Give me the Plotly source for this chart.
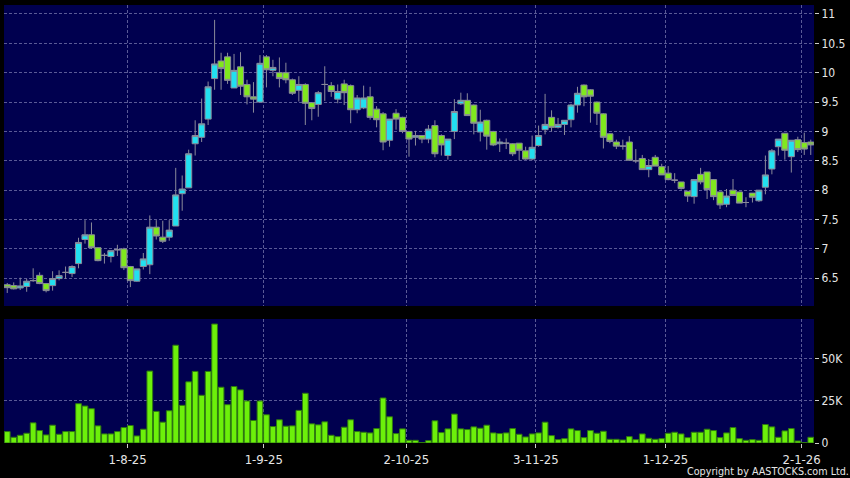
import plotly.graph_objects as go

# ---- data ----
open_ = [6.39, 6.375, 6.335, 6.36, 6.46, 6.55, 6.41, 6.375, 6.495, 6.60,
         6.58, 6.75, 7.16, 7.24, 7.02, 6.89, 6.87, 6.98, 7.00, 6.70,
         6.45, 6.70, 6.73, 7.37, 7.20, 7.20, 7.39, 7.94, 8.04, 8.79,
         8.90, 9.21, 9.90, 10.20, 10.27, 9.74, 10.10, 9.80, 9.59, 9.50,
         10.27, 10.04, 10.00, 10.00, 9.88, 9.70, 9.80, 9.49, 9.46, 9.80,
         9.78, 9.55, 9.81, 9.78, 9.37, 9.40, 9.59, 9.38, 9.30, 8.85,
         9.31, 9.24, 9.00, 8.90, 8.93, 8.87, 9.10, 8.93, 8.59, 9.00,
         9.47, 9.53, 9.45, 8.99, 9.19, 9.00, 8.79, 8.80, 8.79, 8.80,
         8.67, 8.53, 8.76, 9.03, 9.24, 9.07, 9.12, 9.20, 9.45, 9.79,
         9.71, 9.50, 9.30, 8.96, 8.82, 8.75, 8.82, 8.50, 8.54, 8.35,
         8.56, 8.40, 8.29, 8.17, 8.14, 7.98, 7.89, 8.27, 8.31, 8.18,
         7.97, 7.76, 8.00, 7.97, 7.79, 7.95, 7.82, 8.05, 8.36, 8.74,
         8.97, 8.57, 8.86, 8.81, 8.82]
high = [6.42, 6.43, 6.51, 6.49, 6.67, 6.60, 6.42, 6.62, 6.635, 6.70,
        6.72, 7.19, 7.49, 7.45, 7.03, 6.93, 6.97, 7.07, 7.02, 6.71,
        6.66, 6.93, 7.57, 7.49, 7.48, 7.49, 8.38, 8.25, 8.69, 9.19,
        9.56, 9.85, 10.90, 10.34, 10.34, 10.32, 10.35, 9.88, 9.84, 10.30,
        10.30, 10.22, 10.26, 10.17, 9.90, 9.94, 9.82, 9.50, 9.69, 10.11,
        9.84, 9.80, 9.88, 9.80, 9.62, 9.78, 9.76, 9.43, 9.33, 9.21,
        9.38, 9.25, 9.01, 9.01, 8.94, 9.11, 9.19, 8.95, 8.87, 9.55,
        9.66, 9.65, 9.46, 9.37, 9.20, 9.01, 8.88, 8.88, 8.80, 8.80,
        8.74, 8.93, 9.10, 9.64, 9.36, 9.23, 9.19, 9.47, 9.76, 9.80,
        9.72, 9.51, 9.31, 8.97, 8.86, 8.86, 8.92, 8.70, 8.60, 8.53,
        8.60, 8.45, 8.41, 8.29, 8.14, 7.99, 8.18, 8.38, 8.31, 8.19,
        7.97, 8.02, 8.19, 7.97, 7.88, 7.95, 8.00, 8.59, 8.70, 8.87,
        8.97, 8.85, 8.91, 8.98, 8.86]
low = [6.25, 6.31, 6.30, 6.27, 6.44, 6.40, 6.26, 6.29, 6.465, 6.49,
       6.52, 6.67, 7.09, 7.00, 6.79, 6.75, 6.77, 6.88, 6.64, 6.35,
       6.44, 6.65, 6.57, 7.16, 7.10, 7.14, 7.39, 7.65, 8.04, 8.59,
       8.82, 9.11, 9.71, 9.71, 9.81, 9.74, 9.62, 9.46, 9.32, 9.50,
       9.75, 9.94, 9.75, 9.82, 9.62, 9.51, 9.11, 9.19, 9.25, 9.52,
       9.59, 9.48, 9.45, 9.14, 9.31, 9.38, 9.20, 9.07, 8.68, 8.74,
       9.03, 8.97, 8.57, 8.76, 8.80, 8.80, 8.56, 8.59, 8.52, 8.87,
       9.45, 9.27, 8.95, 8.83, 8.69, 8.75, 8.65, 8.70, 8.58, 8.51,
       8.52, 8.51, 8.74, 8.95, 9.00, 9.05, 8.94, 9.07, 9.32, 9.43,
       9.15, 9.11, 8.71, 8.80, 8.70, 8.69, 8.51, 8.46, 8.35, 8.22,
       8.41, 8.26, 8.17, 8.12, 8.01, 7.80, 7.77, 8.10, 7.85, 7.83,
       7.68, 7.71, 7.90, 7.78, 7.71, 7.79, 7.80, 7.93, 8.27, 8.59,
       8.52, 8.30, 8.65, 8.60, 8.60]
close = [6.34, 6.32, 6.37, 6.45, 6.46, 6.41, 6.29, 6.495, 6.545, 6.60,
         6.70, 7.11, 7.24, 7.02, 6.80, 6.89, 6.97, 6.99, 6.68, 6.46,
         6.66, 6.83, 7.37, 7.22, 7.13, 7.32, 7.92, 8.02, 8.62, 8.93,
         9.13, 9.76, 10.15, 10.07, 9.87, 10.04, 9.77, 9.59, 9.55, 10.16,
         10.05, 10.09, 9.90, 9.88, 9.65, 9.80, 9.48, 9.39, 9.66, 9.80,
         9.68, 9.68, 9.66, 9.37, 9.57, 9.57, 9.24, 9.20, 8.82, 9.21,
         9.21, 9.00, 8.87, 8.93, 8.87, 9.04, 8.62, 8.77, 8.87, 9.34,
         9.53, 9.27, 9.14, 9.16, 8.92, 8.77, 8.82, 8.80, 8.62, 8.68,
         8.53, 8.73, 8.93, 9.12, 9.07, 9.12, 9.19, 9.45, 9.65, 9.59,
         9.60, 9.31, 8.90, 8.83, 8.75, 8.75, 8.51, 8.50, 8.35, 8.42,
         8.41, 8.26, 8.18, 8.17, 8.03, 7.90, 8.18, 8.14, 8.01, 7.89,
         7.75, 7.90, 7.91, 7.78, 7.79, 7.88, 8.00, 8.26, 8.67, 8.87,
         8.68, 8.85, 8.69, 8.70, 8.77]
volume = [6800, 3400, 4600, 5800, 12000, 7400, 4800, 10600, 5200, 6800,
          6800, 23400, 22000, 20400, 10200, 5400, 5400, 6800, 9200, 10400,
          4200, 8200, 42800, 18800, 12400, 19200, 58200, 22400, 36400, 42600,
          28400, 42600, 70800, 33200, 22800, 33600, 31600, 25000, 13400, 25000,
          16800, 9800, 13800, 10000, 10200, 19400, 29600, 11400, 10800, 12600,
          4600, 3800, 9400, 13800, 6800, 6400, 6000, 8600, 26800, 15600,
          5600, 8400, 1600, 1600, 300, 1400, 13200, 6200, 8400, 17200,
          8400, 8000, 9600, 8800, 10600, 6000, 5600, 6000, 8600, 5200,
          3600, 5400, 6000, 12400, 4400, 2000, 2600, 8400, 7400, 3200,
          7400, 5800, 7000, 2200, 2200, 1800, 3800, 2000, 5400, 2800,
          2200, 2600, 5800, 6400, 5400, 3200, 6400, 6400, 8200, 7400,
          3200, 6000, 9200, 2600, 1600, 2000, 1600, 11000, 9600, 3400,
          7200, 8600, 1200, 200, 3400]

date_labels = ["1-8-25", "1-9-25", "2-10-25", "3-11-25", "1-12-25", "2-1-26"]
date_label_bar = [19, 40, 62, 82, 102, 123]   # trading-day index of each labelled date
price_ticks = [6.5, 7, 7.5, 8, 8.5, 9, 9.5, 10, 10.5, 11]
price_ticktext = ["6.5", "7", "7.5", "8", "8.5", "9", "9.5", "10", "10.5", "11"]
vol_ticks = [0, 25000, 50000]
vol_ticktext = ["0", "25K", "50K"]

# ---- styling ----
BG = "#000000"
PLOT_BG = "#00004f"
CYAN = "#22e0f0"
GREEN = "#80e81e"
EDGE = "#8a8a9a"
VOL = "#6cf00a"
VOL_EDGE = "#2f7a10"
GRID = "#5a5a96"
TXT = "#e6e6e6"
FONT = "DejaVu Sans Condensed, DejaVu Sans, sans-serif"

x = list(range(len(open_)))
grid_x = [i - 0.42 for i in date_label_bar]

fig = go.Figure()
fig.add_trace(go.Candlestick(
    x=x, open=open_, high=high, low=low, close=close,
    increasing=dict(fillcolor=CYAN, line=dict(color=EDGE, width=1)),
    decreasing=dict(fillcolor=GREEN, line=dict(color=EDGE, width=1)),
    whiskerwidth=0, xaxis="x", yaxis="y", hoverinfo="skip",
))
fig.add_trace(go.Bar(
    x=x, y=volume, xaxis="x2", yaxis="y2",
    marker=dict(color=VOL, line=dict(color=VOL_EDGE, width=1)),
    hoverinfo="skip",
))

xcommon = dict(range=[-0.5, len(open_) - 0.5], tickmode="array", tickvals=grid_x,
               showgrid=True, gridcolor=GRID, gridwidth=1, griddash="3px,2px",
               zeroline=False, showline=False, fixedrange=True, automargin=False)
ycommon = dict(side="right", showgrid=True, gridcolor=GRID, gridwidth=1,
               griddash="3px,2px", zeroline=False, showline=False,
               ticks="outside", ticklen=4, tickcolor="#cccccc", automargin=False,
               tickfont=dict(family=FONT, size=12, color=TXT), fixedrange=True)

fig.update_layout(
    width=850, height=478,
    paper_bgcolor=BG, plot_bgcolor=PLOT_BG,
    margin=dict(l=4, r=36, t=5, b=35),
    showlegend=False,
    bargap=0.12, boxgap=0.06, boxgroupgap=0.0,
    xaxis=dict(**xcommon, anchor="y", domain=[0, 1], showticklabels=False, ticks="",
               rangeslider=dict(visible=False)),
    yaxis=dict(**ycommon, domain=[0.3128, 1], range=[6.028, 11.153],
               tickvals=price_ticks, ticktext=price_ticktext),
    xaxis2=dict(**xcommon, anchor="y2", domain=[0, 1], ticktext=date_labels,
                ticks="outside", ticklen=4, tickcolor="#cccccc",
                tickfont=dict(family=FONT, size=13, color=TXT)),
    yaxis2=dict(**ycommon, domain=[0, 0.2831], range=[0, 73800],
                tickvals=vol_ticks, ticktext=vol_ticktext),
    annotations=[dict(text="Copyright by AASTOCKS.com Ltd.", xref="paper", yref="paper",
                      x=1.046, y=-0.064, xanchor="right", yanchor="middle",
                      showarrow=False, font=dict(family=FONT, size=10.7, color=TXT))],
)

fig.write_html("out.html", config={"displayModeBar": False},
               post_script="document.body.style.margin='0';document.body.style.overflow='hidden';")
